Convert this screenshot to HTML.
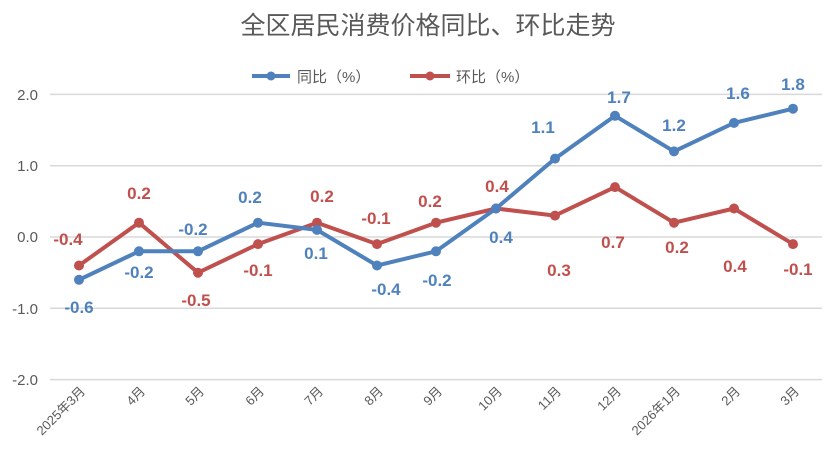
<!DOCTYPE html><html><head><meta charset="utf-8"><style>body{margin:0;background:#fff}svg{display:block}</style></head><body>
<svg width="827" height="473" xmlns="http://www.w3.org/2000/svg" font-family="'Liberation Sans','Noto Sans CJK SC',sans-serif">
<text x="428" y="34" text-anchor="middle" font-size="25" fill="#595959">全区居民消费价格同比、环比走势</text>
<g stroke="#d9d9d9" stroke-width="1.5">
<line x1="50" x2="822" y1="94.4" y2="94.4"/><line x1="50" x2="822" y1="165.7" y2="165.7"/><line x1="50" x2="822" y1="237" y2="237"/><line x1="50" x2="822" y1="308.3" y2="308.3"/><line x1="50" x2="822" y1="379.6" y2="379.6"/></g>
<g font-size="15" fill="#595959" text-anchor="end">
<text x="38" y="100">2.0</text><text x="38" y="171">1.0</text><text x="38" y="242">0.0</text><text x="38" y="314">-1.0</text><text x="38" y="385">-2.0</text></g>
<g font-size="13" fill="#595959" text-anchor="end">
<text transform="translate(86,392) rotate(-45)">2025年3月</text>
<text transform="translate(146,392) rotate(-45)">4月</text>
<text transform="translate(205,392) rotate(-45)">5月</text>
<text transform="translate(265,392) rotate(-45)">6月</text>
<text transform="translate(324,392) rotate(-45)">7月</text>
<text transform="translate(384,392) rotate(-45)">8月</text>
<text transform="translate(443,392) rotate(-45)">9月</text>
<text transform="translate(503,392) rotate(-45)">10月</text>
<text transform="translate(562,392) rotate(-45)">11月</text>
<text transform="translate(622,392) rotate(-45)">12月</text>
<text transform="translate(681,392) rotate(-45)">2026年1月</text>
<text transform="translate(741,392) rotate(-45)">2月</text>
<text transform="translate(800,392) rotate(-45)">3月</text></g>
<line x1="252" x2="290" y1="76" y2="76" stroke="#4f81bd" stroke-width="4"/><circle cx="271" cy="76" r="4.5" fill="#4f81bd"/>
<text x="297" y="82" font-size="15" fill="#595959">同比（%）</text>
<line x1="410" x2="450" y1="76" y2="76" stroke="#c0504d" stroke-width="4"/><circle cx="430" cy="76" r="4.5" fill="#c0504d"/>
<text x="456" y="82" font-size="15" fill="#595959">环比（%）</text>
<polyline fill="none" stroke="#c0504d" stroke-width="4" stroke-linejoin="round" points="79,265.5 139,222.7 198,272.7 258,244.1 317,222.7 377,244.1 436,222.7 496,208.5 555,215.6 615,187.1 674,222.7 734,208.5 793,244.1"/>
<g fill="#c0504d"><circle cx="79" cy="265.5" r="5"/><circle cx="139" cy="222.7" r="5"/><circle cx="198" cy="272.7" r="5"/><circle cx="258" cy="244.1" r="5"/><circle cx="317" cy="222.7" r="5"/><circle cx="377" cy="244.1" r="5"/><circle cx="436" cy="222.7" r="5"/><circle cx="496" cy="208.5" r="5"/><circle cx="555" cy="215.6" r="5"/><circle cx="615" cy="187.1" r="5"/><circle cx="674" cy="222.7" r="5"/><circle cx="734" cy="208.5" r="5"/><circle cx="793" cy="244.1" r="5"/></g>
<polyline fill="none" stroke="#4f81bd" stroke-width="4" stroke-linejoin="round" points="79,279.8 139,251.3 198,251.3 258,222.7 317,229.9 377,265.5 436,251.3 496,208.5 555,158.6 615,115.8 674,151.4 734,122.9 793,108.7"/>
<g fill="#4f81bd"><circle cx="79" cy="279.8" r="5"/><circle cx="139" cy="251.3" r="5"/><circle cx="198" cy="251.3" r="5"/><circle cx="258" cy="222.7" r="5"/><circle cx="317" cy="229.9" r="5"/><circle cx="377" cy="265.5" r="5"/><circle cx="436" cy="251.3" r="5"/><circle cx="496" cy="208.5" r="5"/><circle cx="555" cy="158.6" r="5"/><circle cx="615" cy="115.8" r="5"/><circle cx="674" cy="151.4" r="5"/><circle cx="734" cy="122.9" r="5"/><circle cx="793" cy="108.7" r="5"/></g>
<g font-size="17" font-weight="bold" fill="#4f81bd" text-anchor="middle">
<text x="79" y="313">-0.6</text><text x="139" y="278">-0.2</text><text x="193" y="235">-0.2</text><text x="250" y="203">0.2</text><text x="316" y="259">0.1</text><text x="386" y="295">-0.4</text><text x="437" y="286">-0.2</text><text x="501" y="243">0.4</text><text x="543" y="133">1.1</text><text x="619" y="103">1.7</text><text x="674" y="131">1.2</text><text x="738" y="99">1.6</text><text x="793" y="90">1.8</text></g>
<g font-size="17" font-weight="bold" fill="#c0504d" text-anchor="middle">
<text x="68" y="245">-0.4</text><text x="139" y="199">0.2</text><text x="196" y="306">-0.5</text><text x="258" y="276">-0.1</text><text x="322" y="202">0.2</text><text x="376" y="224">-0.1</text><text x="430" y="207">0.2</text><text x="497" y="192">0.4</text><text x="559" y="276">0.3</text><text x="613" y="248">0.7</text><text x="677" y="253">0.2</text><text x="735" y="272">0.4</text><text x="798" y="275">-0.1</text></g>
</svg></body></html>
